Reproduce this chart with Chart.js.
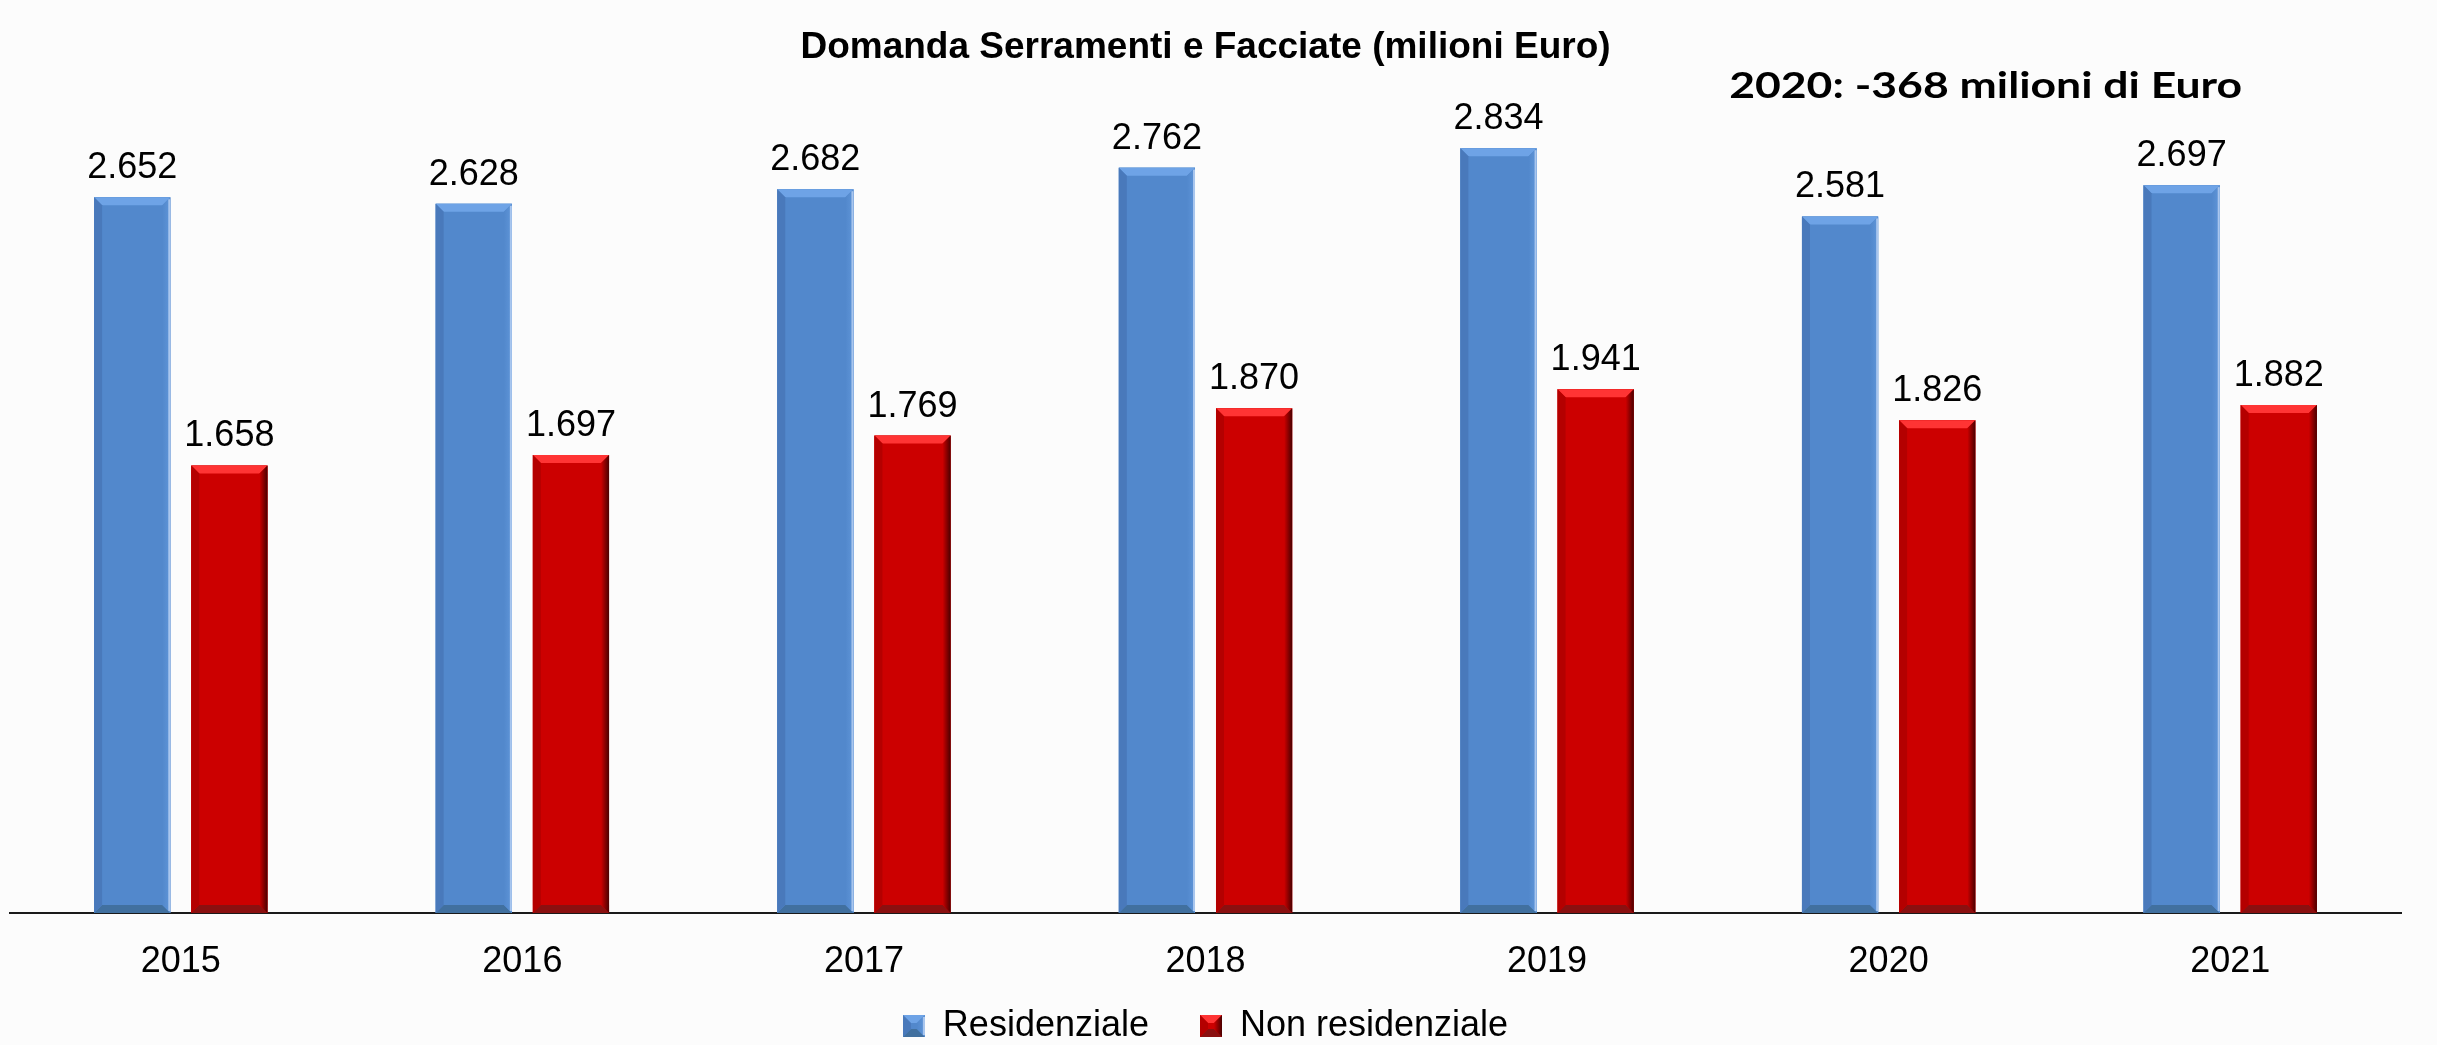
<!DOCTYPE html>
<html>
<head>
<meta charset="utf-8">
<script src="https://cdn.jsdelivr.net/npm/chart.js@4/dist/chart.umd.min.js"></script>
<style>
  html, body { margin: 0; padding: 0; background: #fcfcfc; }
  #wrap { width: 2437px; height: 1045px; }
</style>
</head>
<body>
<div id="wrap"><canvas id="chart" width="2437" height="1045"></canvas></div>
<script>
// data
const years = ['2015', '2016', '2017', '2018', '2019', '2020', '2021'];
const residenziale = [2652, 2628, 2682, 2762, 2834, 2581, 2697];
const nonResidenziale = [1658, 1697, 1769, 1870, 1941, 1826, 1882];
const seriesNames = ['Residenziale', 'Non residenziale'];
const yMax = 3000;
const titleText = 'Domanda Serramenti e Facciate (milioni Euro)';
const noteText = '2020: -368 milioni di Euro';

// bevel colours per series
const palette = [
  { base: '#5288cc', top: '#6ea3e6', bottom: '#41709f', left: '#4979bb', right: '#5f95d8', edge: '#a9c6ee' },
  { base: '#cc0000', top: '#ff3434', bottom: '#8a1010', left: '#b40000', right: '#4a0000', edge: null }
];

// Italian thousands separator
function fmt(v) {
  return String(v).replace(/\B(?=(\d{3})+(?!\d))/g, '.');
}

function bevelRect(ctx, l, t, r, b, c, s) {
  const sz = Math.min(s, (r - l) / 2, (b - t) / 2);
  ctx.fillStyle = c.base;
  ctx.fillRect(l, t, r - l, b - t);
  const poly = (pts, col) => {
    ctx.beginPath();
    ctx.moveTo(pts[0][0], pts[0][1]);
    for (let i = 1; i < pts.length; i++) ctx.lineTo(pts[i][0], pts[i][1]);
    ctx.closePath();
    ctx.fillStyle = col;
    ctx.fill();
  };
  poly([[l, t], [r, t], [r - sz, t + sz], [l + sz, t + sz]], c.top);
  poly([[l, b], [r, b], [r - sz, b - sz], [l + sz, b - sz]], c.bottom);
  poly([[l, t], [l + sz, t + sz], [l + sz, b - sz], [l, b]], c.left);
  // right side fades from the edge colour inwards
  const g = ctx.createLinearGradient(r, 0, r - sz, 0);
  g.addColorStop(0, c.right);
  g.addColorStop(1, c.base);
  poly([[r, t], [r - sz, t + sz], [r - sz, b - sz], [r, b]], g);
  if (c.edge) {
    ctx.fillStyle = c.edge;
    ctx.fillRect(r - 2, t + 2, 2, b - t - 4);
  }
}

// small bevelled squares for the legend
const legendIcons = palette.map(c => {
  const cv = document.createElement('canvas');
  cv.width = 22;
  cv.height = 22;
  bevelRect(cv.getContext('2d'), 0, 0, 22, 22, c, 8);
  return cv;
});

const backgroundPlugin = {
  id: 'background',
  beforeDraw(chart) {
    const ctx = chart.ctx;
    ctx.save();
    ctx.fillStyle = '#fcfcfc';
    ctx.fillRect(0, 0, chart.width, chart.height);
    ctx.restore();
  }
};

// bevel, value labels and the side note
const barDecorPlugin = {
  id: 'barDecor',
  afterDatasetsDraw(chart) {
    const ctx = chart.ctx;
    ctx.save();
    chart.data.datasets.forEach((ds, di) => {
      const meta = chart.getDatasetMeta(di);
      meta.data.forEach((bar, i) => {
        const p = bar.getProps(['x', 'y', 'base', 'width'], true);
        const l = p.x - p.width / 2;
        bevelRect(ctx, l, p.y, l + p.width, p.base, palette[di], 8);
        ctx.fillStyle = '#000';
        ctx.font = '36px "Liberation Sans", Arial, sans-serif';
        ctx.textAlign = 'center';
        ctx.textBaseline = 'middle';
        ctx.fillText(fmt(ds.data[i]), p.x, p.y - 29);
      });
    });
    // note next to 2020, widened a bit to match the Calibri look
    const xs = chart.scales.x;
    const step = xs.getPixelForValue(1) - xs.getPixelForValue(0);
    ctx.font = 'bold 37px Lato, "Open Sans", sans-serif';
    const sx = 513 / ctx.measureText(noteText).width;
    ctx.translate(xs.getPixelForValue(5) + step * 0.284, 86);
    ctx.scale(sx, 1);
    ctx.textAlign = 'center';
    ctx.textBaseline = 'middle';
    ctx.fillStyle = '#000';
    ctx.fillText(noteText, 0, 0);
    ctx.restore();
  }
};

new Chart(document.getElementById('chart'), {
  type: 'bar',
  data: {
    labels: years,
    datasets: [
      {
        label: seriesNames[0],
        data: residenziale,
        backgroundColor: palette[0].base,
        borderWidth: 0,
        categoryPercentage: 0.569,
        barPercentage: 0.784
      },
      {
        label: seriesNames[1],
        data: nonResidenziale,
        backgroundColor: palette[1].base,
        borderWidth: 0,
        categoryPercentage: 0.569,
        barPercentage: 0.784
      }
    ]
  },
  options: {
    responsive: false,
    animation: false,
    devicePixelRatio: 1,
    layout: { padding: { left: 10, right: 36, top: 0, bottom: -9 } },
    scales: {
      x: {
        grid: { display: false, drawTicks: false },
        border: { display: true, color: '#1a1a1a', width: 2 },
        ticks: {
          color: '#000',
          padding: 44,
          // small line height so the label sits low without a tall axis box
          font: { family: '"Liberation Sans", Arial, sans-serif', size: 36, lineHeight: 0.3 }
        },
        afterFit(scale) {
          scale.height = 64;
        }
      },
      y: {
        display: false,
        min: 0,
        max: yMax
      }
    },
    plugins: {
      title: {
        display: true,
        text: titleText,
        color: '#000',
        font: { family: '"Liberation Sans", Arial, sans-serif', size: 37, weight: 'bold', lineHeight: 1.2 },
        padding: { top: 26, bottom: 33 }
      },
      legend: {
        position: 'bottom',
        labels: {
          color: '#000',
          boxWidth: 22,
          boxHeight: 22,
          padding: 31,
          usePointStyle: true,
          font: { family: '"Liberation Sans", Arial, sans-serif', size: 36 },
          generateLabels(chart) {
            const items = Chart.defaults.plugins.legend.labels.generateLabels(chart);
            items.forEach((it, i) => {
              it.pointStyle = legendIcons[i];
              if (i < items.length - 1) it.text += '  ';
            });
            return items;
          }
        }
      },
      tooltip: { enabled: false }
    }
  },
  plugins: [backgroundPlugin, barDecorPlugin]
});
</script>
</body>
</html>
